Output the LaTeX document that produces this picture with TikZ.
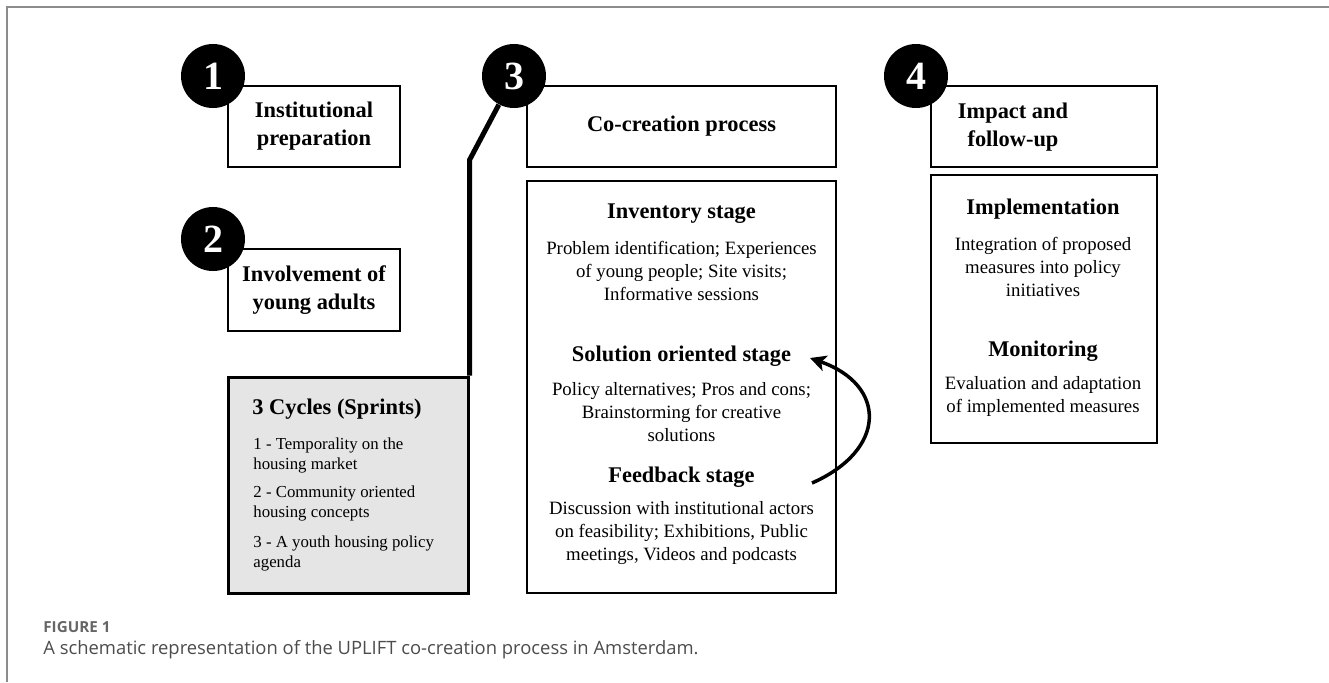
\documentclass[tikz,border=0pt]{standalone}
\usepackage{fontspec}
\setmainfont{Liberation Serif}
\newfontfamily\capfont{Open Sans}
\usetikzlibrary{arrows.meta,positioning}

\begin{document}
\begin{tikzpicture}[x=0.5pt, y=-0.5pt]
        \tikzstyle{box} = [rectangle, draw, line width=1pt, fill=white, inner sep=0pt]
        \tikzstyle{num} = [circle, fill=black, text=white, minimum size=32pt, inner sep=0pt, font=\fontsize{20}{20}\selectfont\bfseries]
        \tikzstyle{head} = [align=center, inner sep=0pt, font=\fontsize{11.2}{14}\selectfont\bfseries]
        \tikzstyle{body} = [align=center, inner sep=0pt, font=\fontsize{9.4}{11.5}\selectfont]
        \tikzstyle{item} = [align=left, anchor=west, inner sep=0pt, font=\fontsize{8.4}{10}\selectfont]
        \tikzstyle{line} = [draw, line width=2.5pt]
        \useasboundingbox (0,0) rectangle (1329,682);
        \draw [black!45, line width=1pt] (1329,7) -- (7,7) -- (7,682);
        \node [box, head, minimum width=86pt, minimum height=40.5pt] (prep) at (314,126.5) {Institutional\\preparation};
        \node [box, head, minimum width=86pt, minimum height=41pt] (youth) at (314,290) {Involvement of\\young adults};
        \node [box, fill=black!10, line width=1.5pt, minimum width=120pt, minimum height=108pt] (cycles) at (348,485) {};
        \node [box, head, minimum width=154.5pt, minimum height=40.5pt] (cocre) at (681.5,126.5) {Co-creation process};
        \node [box, minimum width=154.5pt, minimum height=206pt] (stages) at (681.5,387) {};
        \node [box, minimum width=113pt, minimum height=40.5pt] (impact) at (1044,126.5) {};
        \node [box, minimum width=113pt, minimum height=134pt] (follow) at (1044,309) {};
        \node [head] (impactlbl) at (1013,127) {Impact and\\follow-up};
        \node [anchor=west, inner sep=0pt, font=\fontsize{11.2}{14}\selectfont\bfseries] (cyctitle) at (252,409) {3 Cycles (Sprints)};
        \node [item] (cyc1) at (253,455) {1 - Temporality on the\\housing market};
        \node [item] (cyc2) at (253,503.5) {2 - Community oriented\\housing concepts};
        \node [item] (cyc3) at (253,553) {3 - A youth housing policy\\agenda};
        \node [head] (inv) at (681.5,214) {Inventory stage};
        \node [body] (invtxt) at (681.5,271) {Problem identification; Experiences\\of young people; Site visits;\\Informative sessions};
        \node [head] (sol) at (681.5,356) {Solution oriented stage};
        \node [body] (soltxt) at (681.5,412.5) {Policy alternatives; Pros and cons;\\Brainstorming for creative\\solutions};
        \node [head] (fb) at (681.5,477) {Feedback stage};
        \node [body] (fbtxt) at (681.5,533) {Discussion with institutional actors\\on feasibility; Exhibitions, Public\\meetings, Videos and podcasts};
        \node [head] (impl) at (1043,209) {Implementation};
        \node [body] (impltxt) at (1043,267) {Integration of proposed\\measures into policy\\initiatives};
        \node [head] (mon) at (1043,351) {Monitoring};
        \node [body] (montxt) at (1043,396) {Evaluation and adaptation\\of implemented measures};
        \node [num] (n1) at (213,76) {1};
        \node [num] (n2) at (213,239) {2};
        \node [num] (n3) at (514,76) {3};
        \node [num] (n4) at (916,76) {4};
        \coordinate (kink) at (cycles.north east |- 0,160);
        \path [line] (n3) -- (kink) -- (cycles.north east);
        \coordinate (fbend) at (812,483);
        \coordinate (soltip) at (810,358);
        \path [draw, line width=1.75pt, -{Stealth[length=8pt, width=8pt, inset=2pt]}] (fbend) .. controls (887,450) and (887,385) .. (soltip);
        \node [anchor=west, inner sep=0pt, text=black!60, font=\capfont\bfseries\fontsize{7.6}{9}\selectfont] (figno) at (43,627) {FIGURE 1};
        \node [anchor=west, inner sep=0pt, text=black!70, font=\capfont\fontsize{9.2}{11}\selectfont] (figcap) at (43,650) {A schematic representation of the UPLIFT co-creation process in Amsterdam.};
\end{tikzpicture}
\end{document}
